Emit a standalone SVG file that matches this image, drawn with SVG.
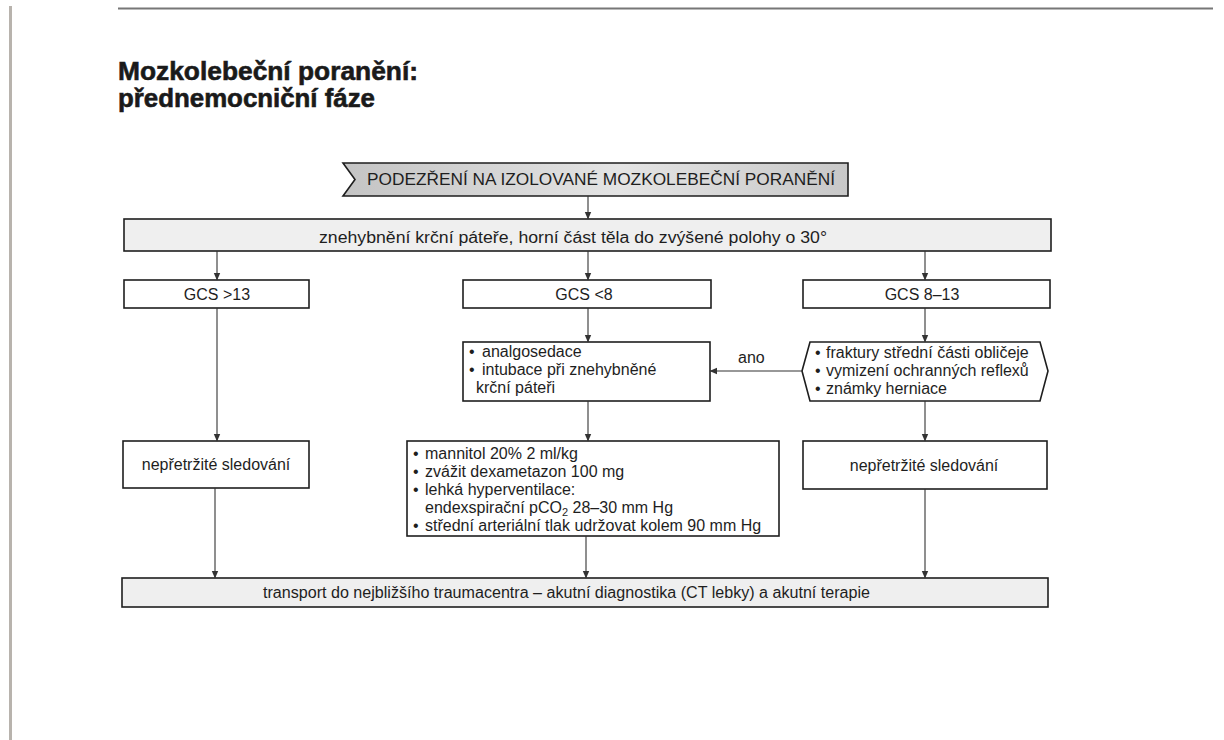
<svg xmlns="http://www.w3.org/2000/svg" width="1224" height="740" viewBox="0 0 1224 740">
<defs>
<marker id="arr" markerWidth="8" markerHeight="8" refX="7" refY="4" orient="auto" markerUnits="userSpaceOnUse">
<path d="M0,0.8 L7.5,4 L0,7.2 Z" fill="#333"/>
</marker>
<linearGradient id="startg" x1="0" y1="0" x2="1" y2="0">
<stop offset="0" stop-color="#c4c4c4"/>
<stop offset="0.55" stop-color="#e4e4e4"/>
<stop offset="1" stop-color="#c8c8c8"/>
</linearGradient>
<style>
.box{fill:#fff;stroke:#1e1e1e;stroke-width:1.6}
.bar{fill:#efefef;stroke:#1e1e1e;stroke-width:1.6}
.t{font-family:"Liberation Sans",Arial,sans-serif;font-size:16px;fill:#1e1e1e}
.c{text-anchor:middle}
.title{font-family:"Liberation Sans",Arial,sans-serif;font-size:26px;font-weight:bold;fill:#1a1a1a;stroke:#1a1a1a;stroke-width:0.6}
.conn line{stroke:#333;stroke-width:1.1;marker-end:url(#arr)}
</style>
</defs>
<rect x="0" y="0" width="1224" height="740" fill="#fff"/>
<rect x="9" y="6" width="3" height="734" fill="#b8b3ad"/>
<line x1="118" y1="8.5" x2="1213" y2="8.5" stroke="#777" stroke-width="2"/>
<g id="title">
<text class="title" x="118" y="80" textLength="300" lengthAdjust="spacingAndGlyphs">Mozkolebeční poranění:</text>
<text class="title" x="118" y="107" textLength="257" lengthAdjust="spacingAndGlyphs">přednemocniční fáze</text>
</g>
<g id="start">
<path d="M343,163 L848,163 L848,196 L343,196 L355,179.5 Z" fill="url(#startg)" stroke="#1e1e1e" stroke-width="1.6"/>
<text class="t" x="367" y="185" textLength="468" lengthAdjust="spacingAndGlyphs">PODEZŘENÍ NA IZOLOVANÉ MOZKOLEBEČNÍ PORANĚNÍ</text>
</g>
<g id="immobilize">
<rect class="bar" x="124" y="219" width="927" height="32"/>
<text class="t" x="319" y="243" textLength="508" lengthAdjust="spacingAndGlyphs">znehybnění krční páteře, horní část těla do zvýšené polohy o  30°</text>
</g>
<g id="gcs13">
<rect class="box" x="124" y="280" width="185" height="28"/>
<text class="t c" x="217" y="299.5">GCS &gt;13</text>
</g>
<g id="gcs8">
<rect class="box" x="463" y="280" width="248" height="28"/>
<text class="t c" x="584" y="299.5">GCS &lt;8</text>
</g>
<g id="gcs813">
<rect class="box" x="803" y="280" width="247" height="28"/>
<text class="t c" x="922" y="299.5">GCS 8–13</text>
</g>
<g id="analgo">
<rect class="box" x="463" y="342" width="247" height="59"/>
<text class="t" x="469" y="357">•</text>
<text class="t" x="482" y="357">analgosedace</text>
<text class="t" x="469" y="375">•</text>
<text class="t" x="482" y="375">intubace při znehybněné</text>
<text class="t" x="476" y="393">krční páteři</text>
</g>
<g id="criteria">
<path d="M810,342 L1040,342 L1048,371 L1040,401 L810,401 L802,371 Z" fill="#fff" stroke="#1e1e1e" stroke-width="1.6"/>
<text class="t" x="815" y="358">•</text>
<text class="t" x="826" y="358">fraktury střední části obličeje</text>
<text class="t" x="815" y="376">•</text>
<text class="t" x="826" y="376">vymizení ochranných reflexů</text>
<text class="t" x="815" y="394">•</text>
<text class="t" x="826" y="394">známky herniace</text>
</g>
<g id="monitorL">
<rect class="box" x="123" y="441" width="186" height="47"/>
<text class="t c" x="216" y="470">nepřetržité sledování</text>
</g>
<g id="therapy">
<rect class="box" x="407" y="441" width="372" height="95"/>
<text class="t" x="413" y="459">•</text>
<text class="t" x="425" y="459">mannitol 20% 2 ml/kg</text>
<text class="t" x="413" y="477">•</text>
<text class="t" x="425" y="477">zvážit dexametazon 100 mg</text>
<text class="t" x="413" y="495">•</text>
<text class="t" x="425" y="495">lehká hyperventilace:</text>
<text class="t" x="425" y="513">endexspirační pCO<tspan font-size="11" dy="3">2</tspan><tspan dy="-3"> 28–30 mm Hg</tspan></text>
<text class="t" x="413" y="531">•</text>
<text class="t" x="425" y="531">střední arteriální tlak udržovat kolem 90 mm Hg</text>
</g>
<g id="monitorR">
<rect class="box" x="803" y="441" width="244" height="48"/>
<text class="t c" x="924" y="471">nepřetržité sledování</text>
</g>
<g id="transport">
<rect class="bar" x="122" y="578" width="926" height="29"/>
<text class="t" x="263" y="598" textLength="607" lengthAdjust="spacingAndGlyphs">transport do nejbližšího traumacentra – akutní diagnostika (CT lebky) a akutní terapie</text>
</g>
<g id="connectors" class="conn">
<line x1="588" y1="196" x2="588" y2="219"/>
<line x1="217" y1="251" x2="217" y2="280"/>
<line x1="588" y1="251" x2="588" y2="280"/>
<line x1="925" y1="251" x2="925" y2="280"/>
<line x1="217" y1="308" x2="217" y2="441"/>
<line x1="588" y1="308" x2="588" y2="342"/>
<line x1="925" y1="308" x2="925" y2="342"/>
<line x1="802" y1="371" x2="710" y2="371"/>
<line x1="588" y1="401" x2="588" y2="441"/>
<line x1="925" y1="401" x2="925" y2="441"/>
<line x1="215" y1="488" x2="215" y2="578"/>
<line x1="586" y1="536" x2="586" y2="578"/>
<line x1="925" y1="489" x2="925" y2="578"/>
</g>
<text class="t" x="738" y="363">ano</text>
</svg>
